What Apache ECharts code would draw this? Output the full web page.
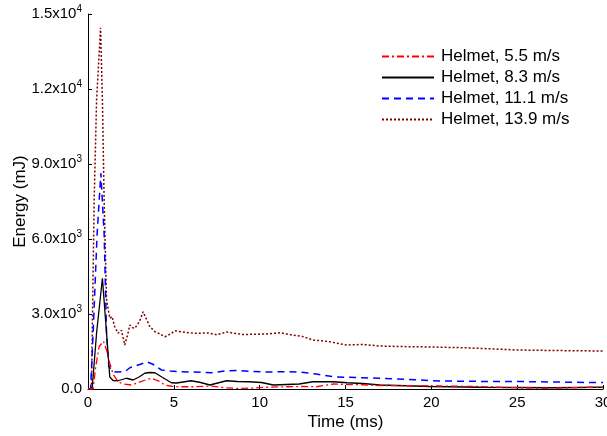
<!DOCTYPE html>
<html>
<head>
<meta charset="utf-8">
<script src="https://cdn.jsdelivr.net/npm/echarts@6/dist/echarts.min.js"></script>
<style>html,body{margin:0;padding:0;background:#fff}#c{width:607px;height:436px}</style>
</head>
<body>
<div id="c"></div>
<script>
// ---- data ----
const seriesNames = ['Helmet, 5.5 m/s', 'Helmet, 8.3 m/s', 'Helmet, 11.1 m/s', 'Helmet, 13.9 m/s'];

const t55 = [0, 0.3, 0.45, 0.65, 0.9, 1.08, 1.27, 1.46, 1.75, 2.05, 2.53, 2.9, 3.3, 3.7, 4.18, 4.48, 4.86, 5.25, 6.2, 7.1, 8.0, 8.85, 9.6, 10.4, 11.6, 12.5, 13.3, 14.3, 15.1, 16, 17, 19, 20.5, 22.8, 24.5, 26.7, 28, 29.4, 30];
const e55 = [0, 0, 890, 1700, 1910, 1560, 1030, 600, 290, 200, 160, 250, 350, 430, 300, 160, 110, 90, 90, 120, 50, 20, 40, 70, 90, 100, 90, 200, 180, 170, 140, 130, 120, 100, 60, 30, 50, 70, 60];

const t83 = [0, 0.24, 0.5, 0.84, 1.08, 1.27, 1.46, 1.75, 2.24, 2.63, 3.0, 3.3, 3.6, 3.9, 4.3, 4.86, 5.16, 6.0, 6.5, 7.1, 8.07, 8.7, 9.4, 10.1, 10.8, 12.3, 13.1, 14.3, 15.1, 16, 17, 18.5, 19.9, 21, 22.8, 25, 27, 30];
const e83 = [0, 0, 2240, 4430, 2240, 480, 340, 330, 430, 360, 490, 630, 660, 650, 480, 250, 240, 330, 270, 160, 330, 300, 290, 260, 160, 200, 290, 290, 250, 220, 160, 130, 100, 90, 70, 60, 50, 70];

const t111 = [0, 0.15, 0.3, 0.53, 0.75, 0.94, 1.08, 1.21, 1.46, 1.7, 2.14, 2.44, 2.73, 3.1, 3.4, 3.75, 4.28, 4.8, 5.25, 6.2, 7.2, 8.0, 8.65, 9.5, 10.4, 11.3, 12.3, 13.3, 14.3, 15.06, 16, 17, 18, 19, 20.5, 22, 23.5, 25, 27, 29, 30];
const e111 = [0, 0, 2240, 6200, 8630, 6200, 2240, 900, 700, 680, 690, 850, 920, 1000, 1090, 1000, 760, 720, 690, 680, 650, 720, 740, 700, 680, 690, 680, 600, 490, 470, 450, 430, 400, 370, 320, 310, 300, 300, 280, 260, 260];

const t139 = [0, 0.2, 0.36, 0.5, 0.73, 0.84, 0.94, 1.08, 1.27, 1.4, 1.55, 1.75, 1.95, 2.14, 2.3, 2.44, 2.6, 2.73, 3.0, 3.21, 3.4, 3.6, 3.9, 4.2, 4.48, 4.8, 5.06, 5.5, 6.2, 7, 7.5, 8.07, 9, 10.4, 11.2, 11.9, 12.5, 13.1, 14, 15.06, 16, 17, 18, 20, 22, 25, 27, 30];
const e139 = [0, 0, 7560, 11560, 14450, 11560, 7560, 3560, 2830, 2900, 2500, 2230, 2350, 1760, 2150, 2560, 2450, 2430, 2700, 3090, 2800, 2500, 2290, 2200, 2090, 2200, 2330, 2280, 2230, 2240, 2170, 2280, 2180, 2200, 2250, 2160, 2100, 1960, 1900, 1760, 1780, 1720, 1700, 1680, 1650, 1560, 1540, 1520];

const yTickValues = [0, 3000, 6000, 9000, 12000, 15000];
const yTickMantissa = ['0.0', '3.0', '6.0', '9.0', '1.2', '1.5'];
const yTickExponent = ['', '3', '3', '3', '4', '4'];
const xTickLabels = ['0', '5', '10', '15', '20', '25', '30'];

// ---- chart ----
const FONT = 'Liberation Sans, Arial, sans-serif';
function pairs(t, e) { return t.map((v, i) => [v, e[i]]); }

const chart = echarts.init(document.getElementById('c'), null, { renderer: 'canvas' });
const option = {
  backgroundColor: '#fff',
  animation: false,
  textStyle: { fontFamily: FONT, color: '#000' },
  grid: { left: 88, right: 4, top: 14, bottom: 47, containLabel: false, outerBoundsMode: 'none' },
  legend: {
    orient: 'vertical',
    left: 376,
    top: 43,
    itemWidth: 52,
    itemHeight: 12,
    itemGap: 4,
    data: seriesNames,
    itemStyle: { opacity: 0 },
    textStyle: { fontFamily: FONT, fontSize: 17, color: '#000', lineHeight: 17, padding: [0, 0, 0, 2] }
  },
  xAxis: {
    type: 'value',
    min: 0, max: 30, interval: 5,
    name: 'Time (ms)',
    nameLocation: 'middle',
    nameGap: 25,
    nameMoveOverlap: false,
    nameTextStyle: { fontFamily: FONT, fontSize: 17, color: '#000' },
    axisLine: { show: true, onZero: false, lineStyle: { color: '#000', width: 1 } },
    axisTick: { show: true, inside: true, length: 4, lineStyle: { color: '#000' } },
    splitLine: { show: false },
    axisLabel: {
      fontFamily: FONT, fontSize: 15, color: '#000', margin: 6,
      formatter: function (v) { return xTickLabels[Math.round(v / 5)]; }
    }
  },
  yAxis: {
    type: 'value',
    min: 0, max: 15000, interval: 3000,
    name: 'Energy (mJ)',
    nameLocation: 'middle',
    nameGap: 59,
    nameMoveOverlap: false,
    nameTextStyle: { fontFamily: FONT, fontSize: 17, color: '#000' },
    axisLine: { show: true, lineStyle: { color: '#000', width: 1 } },
    axisTick: { show: true, inside: true, length: 4, lineStyle: { color: '#000' } },
    splitLine: { show: false },
    axisLabel: {
      fontFamily: FONT, color: '#000', margin: 6,
      formatter: function (v) {
        const i = yTickValues.indexOf(v);
        if (i < 0) return '';
        if (!yTickExponent[i]) return '{m|' + yTickMantissa[i] + '}';
        return '{m|' + yTickMantissa[i] + 'x10}{s|' + yTickExponent[i] + '}';
      },
      rich: {
        m: { fontFamily: FONT, fontSize: 15, color: '#000' },
        s: { fontFamily: FONT, fontSize: 10, color: '#000', padding: [0, 0, 9, 0] }
      }
    }
  },
  series: [
    { name: seriesNames[0], type: 'line', symbol: 'none', data: pairs(t55, e55),
      lineStyle: { color: '#ff0000', width: 1.3, type: [7, 3, 2, 3] }, itemStyle: { color: '#ff0000' }, z: 4 },
    { name: seriesNames[1], type: 'line', symbol: 'none', data: pairs(t83, e83),
      lineStyle: { color: '#000000', width: 1.3, type: 'solid' }, itemStyle: { color: '#000000' }, z: 3 },
    { name: seriesNames[2], type: 'line', symbol: 'none', data: pairs(t111, e111),
      lineStyle: { color: '#0000ff', width: 1.5, type: [7, 5] }, itemStyle: { color: '#0000ff' }, z: 2 },
    { name: seriesNames[3], type: 'line', symbol: 'none', data: pairs(t139, e139),
      lineStyle: { color: '#800000', width: 1.5, type: [2, 2] }, itemStyle: { color: '#800000' }, z: 1 }
  ]
};
chart.setOption(option);
</script>
</body>
</html>
